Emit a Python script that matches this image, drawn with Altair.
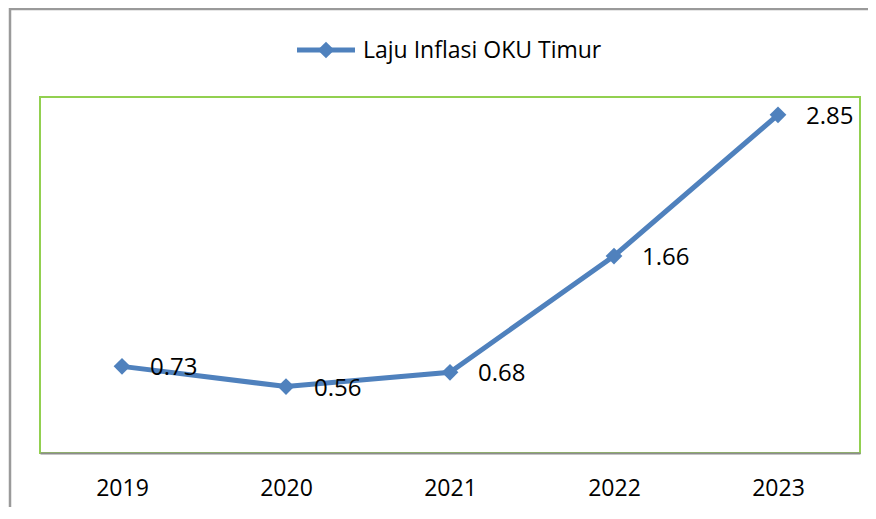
import altair as alt
import pandas as pd

years = ["2019", "2020", "2021", "2022", "2023"]
inflation = [0.73, 0.56, 0.68, 1.66, 2.85]
series_name = "Laju Inflasi OKU Timur"

df = pd.DataFrame({"Tahun": years, "Inflasi": inflation, "label": [f"{v:.2f}" for v in inflation]})

BLUE = "#4F81BD"
FONT = "Open Sans"

x_enc = alt.X("Tahun:N", sort=years, title=None,
              scale=alt.Scale(paddingInner=0, paddingOuter=0),
              axis=alt.Axis(labelAngle=0, ticks=False, labelFontSize=23, labelFont=FONT,
                            labelColor="#000000", labelPadding=24, domainColor="#8c8c8c",
                            domainWidth=2, grid=False))
y_enc = alt.Y("Inflasi:Q", title=None, scale=alt.Scale(domain=[0, 3], nice=False, zero=True),
              axis=None)

base = alt.Chart(df)

line = base.mark_line(color=BLUE, strokeWidth=5).encode(x=x_enc, y=y_enc)
pts = base.mark_point(shape="diamond", filled=True, color=BLUE, size=280, opacity=1).encode(x=x_enc, y=y_enc)
labels = base.mark_text(align="left", baseline="middle", dx=28, dy=2, fontSize=24, font=FONT,
                        color="#000000").encode(x=x_enc, y=y_enc, text="label:N")

# outer chart frame
frame = alt.Chart(pd.DataFrame({"a": [0]})).mark_rect(fill=None, stroke="#9a9a9a", strokeWidth=2.5, clip=False).encode(
    x=alt.value(-30), x2=alt.value(900), y=alt.value(-88), y2=alt.value(500))

# legend
leg_df = pd.DataFrame({"name": [series_name]})
leg_line = alt.Chart(leg_df).mark_rule(color=BLUE, strokeWidth=5).encode(
    x=alt.value(257), x2=alt.value(315), y=alt.value(-47))
leg_pt = alt.Chart(leg_df).mark_point(shape="diamond", filled=True, color=BLUE, size=280, opacity=1).encode(
    x=alt.value(286), y=alt.value(-47))
leg_txt = alt.Chart(leg_df).mark_text(align="left", baseline="middle", fontSize=23, font=FONT,
                                      color="#000000").encode(
    x=alt.value(323), y=alt.value(-46), text="name:N")

chart = alt.layer(frame, line, pts, labels, leg_line, leg_pt, leg_txt).properties(
    width=820, height=356,
    autosize=alt.AutoSizeParams(type="none"),
    padding={"left": 32, "top": 89, "right": 8, "bottom": 54},
    background="white",
).configure_view(stroke="#92D050", strokeWidth=2)

chart.save("out.html", embed_options={"renderer": "svg", "actions": False})
